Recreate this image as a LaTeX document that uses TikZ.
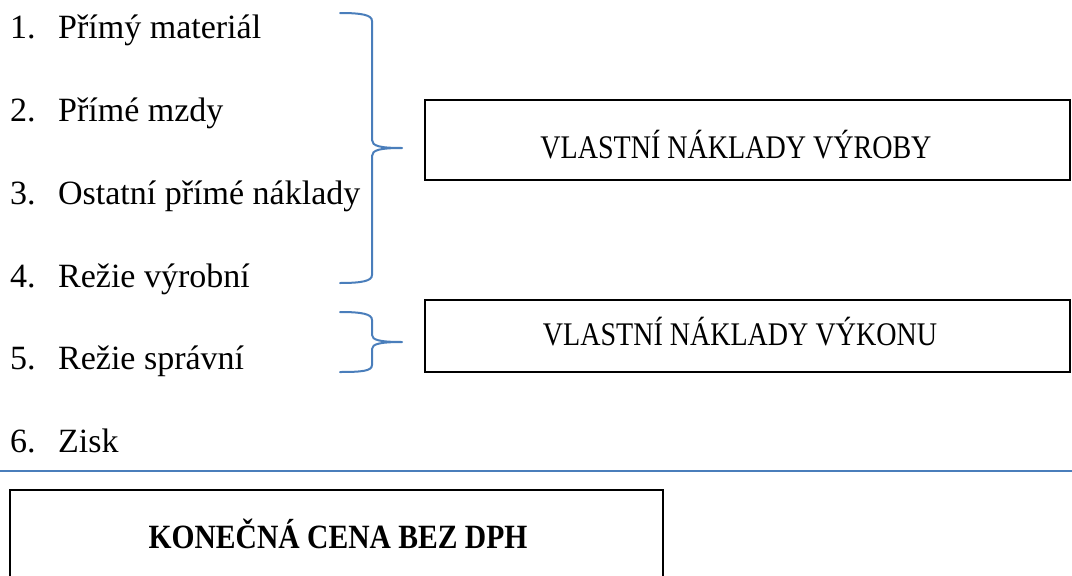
\documentclass[tikz,border=0pt]{standalone}
\usepackage{fontspec}
\setmainfont{Liberation Serif}
\newfontfamily\narrowserif[FakeStretch=0.85]{Liberation Serif}
\newfontfamily\narrowbold[FakeStretch=0.87]{Liberation Serif Bold}
\definecolor{braceblue}{HTML}{4A7EBB}
\tikzset{
  item/.style={anchor=base west, inner sep=0pt, font=\fontsize{34}{40}\selectfont},
  boxtext/.style={anchor=base, inner sep=0pt, font=\narrowserif\fontsize{33}{38}\selectfont},
  frame/.style={draw=black, line width=1.6pt, inner sep=0pt},
  bracket/.style={draw=braceblue, line width=2pt, line cap=round},
}
\newcommand{\num}[1]{\makebox[48pt][l]{#1}}
\begin{document}
\begin{tikzpicture}[x=1pt, y=-1pt]
  \useasboundingbox (0,0) rectangle (1072,576);

  % numbered list of cost items
  \node[item] (i1) at (10,38)  {\num{1.}Přímý materiál};
  \node[item] (i2) at (10,121) {\num{2.}Přímé mzdy};
  \node[item] (i3) at (10,204) {\num{3.}Ostatní přímé náklady};
  \node[item] (i4) at (10,287) {\num{4.}Režie výrobní};
  \node[item] (i5) at (10,369) {\num{5.}Režie správní};
  \node[item] (i6) at (10,452) {\num{6.}Zisk};

  % result boxes
  \node[frame, minimum width=645pt, minimum height=80pt] (vyroba) at (747.5,140) {};
  \node[boxtext] (tvyroba) at (736,158) {VLASTNÍ NÁKLADY VÝROBY};

  \node[frame, minimum width=645pt, minimum height=72pt] (vykon) at (747.5,336) {};
  \node[boxtext] (tvykon) at (740,345) {VLASTNÍ NÁKLADY VÝKONU};

  % curly brackets grouping items 1-4 and item 5
  \coordinate (tipA) at (402,148);
  \coordinate (tipB) at (402,342);
  \path[bracket] (340,13) .. controls (362,13) and (372,15) .. (372,21)
      -- (372,140) .. controls (372,146) and (380,148) .. (tipA)
      (tipA) .. controls (380,148) and (372,150) .. (372,156)
      -- (372,275) .. controls (372,281) and (362,283) .. (340,283);
  \path[bracket] (340,312) .. controls (362,312) and (372,314) .. (372,320)
      -- (372,335) .. controls (372,340) and (380,342) .. (tipB)
      (tipB) .. controls (380,342) and (372,344) .. (372,349)
      -- (372,365) .. controls (372,371) and (362,372) .. (340,372);

  % separator line
  \coordinate (sepL) at (0,471);
  \coordinate (sepR) at (1072,471);
  \draw[draw=braceblue, line width=2pt] (sepL) -- (sepR);

  % final price box
  \node[frame, minimum width=653pt, minimum height=110pt] (cena) at (336.5,545) {};
  \node[boxtext, font=\narrowbold\fontsize{34}{38}\selectfont] (tcena) at (338,548) {KONEČNÁ CENA BEZ DPH};
\end{tikzpicture}
\end{document}
